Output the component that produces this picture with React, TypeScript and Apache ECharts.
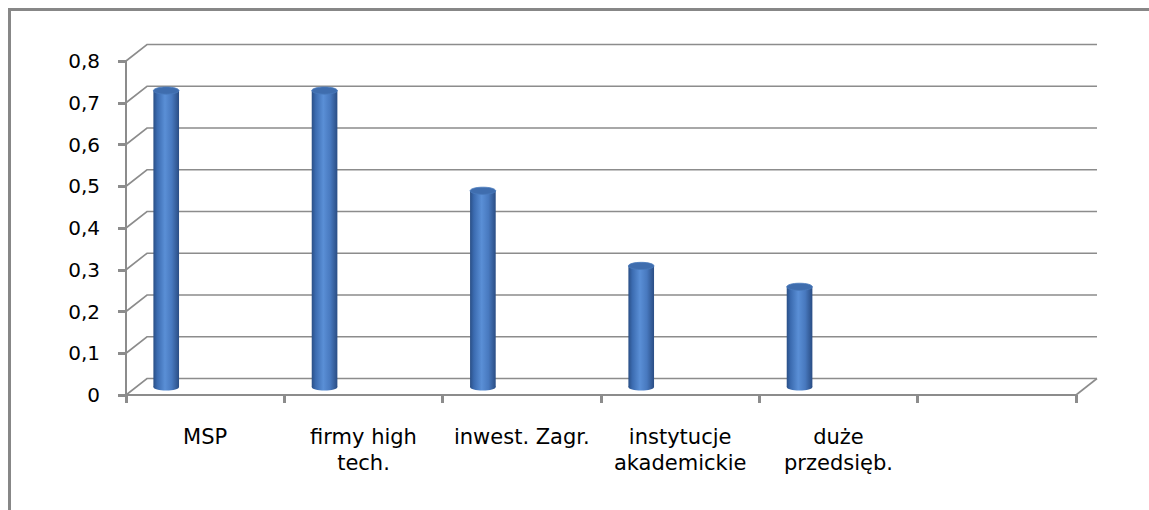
import React, { useEffect, useRef } from "react";
import * as echarts from "echarts";

const categories = ["MSP", "firmy high\ntech.", "inwest. Zagr.", "instytucje\nakademickie", "duże\nprzedsięb.", ""];
const values = [0.71, 0.71, 0.47, 0.29, 0.24];
const yTicks = [0, 0.1, 0.2, 0.3, 0.4, 0.5, 0.6, 0.7, 0.8];

const FONT = "'DejaVu Sans', sans-serif";
const GRID_COLOR = "#8c8c8c";
const DX = 21;
const DY = -16.5;

export default function App() {
  const ref = useRef<HTMLDivElement>(null);
  useEffect(() => {
    if (!ref.current) return;
    const chart = echarts.init(ref.current, null, { renderer: "svg" });
    const barGrad = () =>
      new echarts.graphic.LinearGradient(0, 0, 1, 0, [
        { offset: 0, color: "#2a4f86" },
        { offset: 0.15, color: "#3b6bb0" },
        { offset: 0.45, color: "#5a8fd6" },
        { offset: 0.72, color: "#4879bf" },
        { offset: 1, color: "#2a4d84" },
      ]);
    chart.setOption({
      animation: false,
      backgroundColor: "#ffffff",
      graphic: [
        {
          type: "rect",
          shape: { x: 9.5, y: 9.5, width: 1300, height: 700 },
          style: { fill: "none", stroke: "#878787", lineWidth: 3 },
          silent: true,
        },
      ],
      grid: { left: 126, right: 73, top: 61, bottom: 115, containLabel: false },
      xAxis: {
        type: "category",
        data: categories,
        boundaryGap: true,
        axisLine: { show: true, lineStyle: { color: GRID_COLOR, width: 2 } },
        axisTick: { show: true, length: 8, inside: false, lineStyle: { color: GRID_COLOR, width: 3 } },
        axisLabel: {
          interval: 0,
          margin: 29,
          color: "#000",
          fontFamily: FONT,
          fontSize: 21,
          lineHeight: 26,
        },
        splitLine: { show: false },
      },
      yAxis: {
        type: "value",
        min: 0,
        max: 0.8,
        interval: 0.1,
        axisLine: { show: true, lineStyle: { color: GRID_COLOR, width: 2 } },
        axisTick: { show: true, length: 8, lineStyle: { color: GRID_COLOR, width: 3 } },
        axisLabel: {
          margin: 26,
          color: "#000",
          fontFamily: FONT,
          fontSize: 20,
          formatter: (v: number) => String(Math.round(v * 10) / 10).replace(".", ","),
        },
        splitLine: { show: false },
      },
      series: [
        {
          type: "custom",
          z: 1,
          silent: true,
          clip: false,
          data: yTicks.map((v) => [0, v]),
          encode: { x: 0, y: 1 },
          renderItem: (params: any, api: any) => {
            const v = api.value(1);
            const cs = params.coordSys;
            const y = api.coord([0, v])[1];
            const x0 = cs.x;
            const x1 = cs.x + cs.width;
            const style = { stroke: GRID_COLOR, lineWidth: 1.6, fill: null };
            const children: any[] = [
              {
                type: "polyline",
                shape: { points: [[x0, y], [x0 + DX, y + DY], [x1 + DX, y + DY]] },
                style,
              },
            ];
            if (v === 0) {
              children.push({ type: "line", shape: { x1: x1, y1: y, x2: x1 + DX, y2: y + DY }, style });
            }
            return { type: "group", children };
          },
        },
        {
          type: "custom",
          z: 3,
          clip: false,
          data: values.map((v, i) => [i, v]),
          encode: { x: 0, y: 1 },
          renderItem: (params: any, api: any) => {
            const i = api.value(0);
            const v = api.value(1);
            const top = api.coord([i, v]);
            const base = api.coord([i, 0]);
            const band = api.size([1, 0])[0];
            const cx = top[0] - band * 0.246;
            const rx = band * 0.081;
            const ry = 3.6;
            const yb = base[1] - 8;
            const yt = top[1] - 8;
            return {
              type: "group",
              children: [
                {
                  type: "ellipse",
                  shape: { cx, cy: yb, rx, ry },
                  style: { fill: barGrad() },
                },
                {
                  type: "rect",
                  shape: { x: cx - rx, y: yt, width: rx * 2, height: yb - yt },
                  style: { fill: barGrad() },
                },
                {
                  type: "ellipse",
                  shape: { cx, cy: yt, rx, ry },
                  style: { fill: "#3f6dae", stroke: "#4a7bbd", lineWidth: 0.8 },
                },
              ],
            };
          },
        },
      ],
    });
    return () => chart.dispose();
  }, []);
  return (
    <div
      ref={ref}
      style={{ position: "fixed", left: 0, top: 0, width: 1149, height: 510 }}
    />
  );
}
